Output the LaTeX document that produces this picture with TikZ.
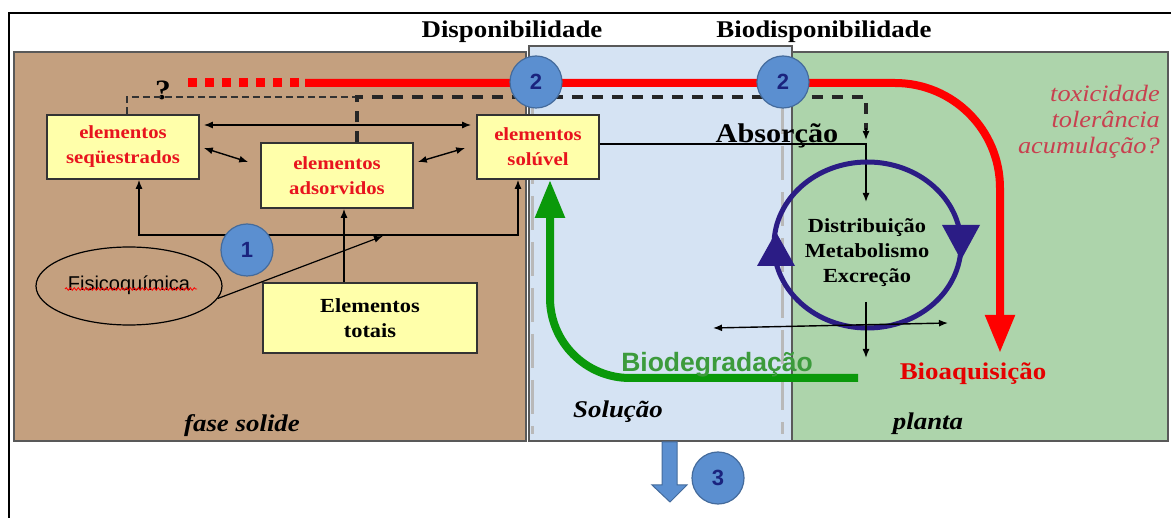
\documentclass[tikz,border=0pt]{standalone}
\usepackage{fontspec}
\setmainfont{Liberation Serif}[FakeStretch=1.12]
\setsansfont{Liberation Sans}
\usetikzlibrary{arrows.meta,positioning,shapes.geometric,calc,decorations.pathmorphing}
\definecolor{soilbrown}{HTML}{C4A07F}
\definecolor{solblue}{HTML}{D5E3F3}
\definecolor{plantgreen}{HTML}{ADD4AB}
\definecolor{boxyellow}{HTML}{FFFFAA}
\definecolor{elred}{HTML}{E8141E}
\definecolor{numblue}{HTML}{5B8FD0}
\definecolor{numnavy}{HTML}{1A237E}
\definecolor{cycpurple}{HTML}{2B1C85}
\definecolor{biogreen}{HTML}{0A990A}
\definecolor{biotext}{HTML}{3C9B3C}
\definecolor{toxred}{HTML}{C8404F}
\tikzset{
  panel/.style={draw=black!65, line width=2pt},
  limit/.style={draw=gray!55, line width=3pt, dash pattern=on 34pt off 12pt},
  elbox/.style={draw=black!80, line width=1.6pt, fill=boxyellow, align=center, inner sep=2pt},
  eltext/.style={elbox, text=elred, font=\bfseries\fontsize{18.5}{25}\selectfont},
  numc/.style={circle, draw=numblue!75!black, line width=1.2pt, fill=numblue, minimum size=52pt, inner sep=0pt, text=numnavy, font=\sffamily\bfseries\fontsize{22}{22}\selectfont},
  head/.style={font=\bfseries\fontsize{24}{24}\selectfont, anchor=base},
  zone/.style={font=\bfseries\itshape\fontsize{24}{24}\selectfont, anchor=base},
  arrow/.style={-{Latex[length=9pt,width=7pt]}, line width=1.4pt},
  darrow/.style={{Latex[length=9pt,width=7pt]}-{Latex[length=9pt,width=7pt]}, line width=1.4pt},
  bigtip/.style={-{Triangle[length=38pt,width=28pt]}}
}
\begin{document}
\begin{tikzpicture}[x=1pt,y=-1pt]
    \useasboundingbox (0,0) rectangle (1171,518);
    \draw[line width=2pt] (9,518) -- (9,13) -- (1171,13);

    % zones
    \draw[panel, fill=soilbrown] (14,52) rectangle (526,441);
    \draw[panel, fill=solblue] (529,46) rectangle (792,441);
    \draw[panel, fill=plantgreen] (792,52) rectangle (1168,441);
    \draw[limit] (532,58) -- (532,434);
    \draw[limit] (782,100) -- (782,434);

    \node[head] (dispo) at (512,38) {Disponibilidade};
    \node[head] (biodispo) at (824,38) {Biodisponibilidade};

    % solid phase
    \node[eltext, minimum width=152pt, minimum height=64pt] (seq) at (123,147) {elementos\\seqüestrados};
    \node[eltext, minimum width=152pt, minimum height=65pt] (ads) at (337,175.5) {elementos\\adsorvidos};
    \node[eltext, minimum width=122pt, minimum height=64pt] (sol) at (538,147) {elementos\\solúvel};
    \node[elbox, font=\bfseries\fontsize{20}{25}\selectfont, minimum width=214pt, minimum height=70pt] (tot) at (370,318) {Elementos\\totais};
    \node[draw, ellipse, line width=1.2pt, inner sep=0pt, minimum width=186pt, minimum height=78pt, font=\sffamily\fontsize{20}{20}\selectfont] (fisico) at (129,286) {\raisebox{5pt}{Fisicoquímica}};
    \draw[red, line width=0.8pt, decorate, decoration={snake, amplitude=1.3pt, segment length=4pt}] ($(fisico.center)+(-64,3)$) -- ($(fisico.center)+(68,3)$);
    \node[font=\bfseries\fontsize{28}{28}\selectfont, anchor=base] (qmark) at (163,100) {?};

    \draw[darrow] ($(seq.east)+(4,-22)$) -- ($(sol.west)+(-5,-22)$);
    \draw[darrow] ($(seq.east)+(4,1)$) -- ($(ads.west)+(-12,-13.5)$);
    \draw[darrow] ($(ads.east)+(4,-13.5)$) -- ($(sol.west)+(-11,1)$);
    \coordinate (bus) at (330,235);
    \draw[darrow] ([xshift=16pt]seq.south) |- (bus) -| ([xshift=-20pt]sol.south);
    \draw[arrow] ([xshift=-26pt]tot.north) -- ([xshift=-26pt]tot.north |- ads.south);
    \coordinate (fisitip) at (383,236);
    \draw[arrow, line width=1.2pt] (fisico.-8) -- (fisitip);

    % dashed links
    \coordinate (dashjoin) at (357,97);
    \coordinate (dashcorner) at (866,97);
    \coordinate (dashend) at (866,140);
    \draw[black!80, line width=1.5pt, dash pattern=on 7pt off 4pt] ($(seq.north)+(4,0)$) |- (dashjoin);
    \draw[black!85, line width=3.5pt, dash pattern=on 11pt off 9pt] ([xshift=20pt]ads.north) |- (dashcorner) -- ($(dashend)+(0,-10)$);
    \draw[arrow] ($(dashend)+(0,-12)$) -- (dashend);

    % absorption and cycle
    \node[font=\bfseries\fontsize{27}{27}\selectfont, anchor=base] (absorcao) at (777,143) {Absorção};
    \coordinate (abscorner) at (866,144);
    \coordinate (abstip) at (866,202);
    \draw[arrow] (sol.east |- abscorner) -- (abscorner) -- (abstip);

    \draw[cycpurple, line width=5pt] (867.5,245) ellipse [x radius=93.5pt, y radius=83pt];
    \fill[cycpurple] (757,266) -- (795,266) -- (776,232) -- cycle;
    \fill[cycpurple] (942,225) -- (980,225) -- (961,260) -- cycle;
    \node[font=\bfseries\fontsize{20}{25}\selectfont, align=center] (dme) at (867,253) {Distribuição\\Metabolismo\\Excreção};
    \coordinate (dmestart) at (866,302);
    \coordinate (dmetip) at (866,358);
    \draw[arrow] (dmestart) -- (dmetip);
    \coordinate (exl) at (713,328);
    \coordinate (exr) at (948,323);
    \draw[darrow] (exl) -- (exr);

    % biodegradation
    \coordinate (biostart) at (858,378);
    \coordinate (biocorner) at (550,378);
    \draw[biogreen, line width=8pt, rounded corners=80pt, bigtip] (biostart) -- (biocorner) -- (sol.south -| biocorner);
    \node[text=biotext, font=\sffamily\bfseries\fontsize{26.5}{26.5}\selectfont, anchor=base] (biodeg) at (717,372) {Biodegradação};

    % bioacquisition
    \coordinate (redstart) at (188,83);
    \coordinate (redsolid) at (305,83);
    \coordinate (redcorner) at (1000,83);
    \coordinate (redtip) at (1000,353);
    \draw[red, line width=9pt, dash pattern=on 9pt off 8pt] (redstart) -- (redsolid);
    \draw[red, line width=8pt, rounded corners=105pt, bigtip] (redsolid) -- (redcorner) -- (redtip);
    \node[text=red!90!black, font=\bfseries\fontsize{24}{24}\selectfont, anchor=base] (bioaq) at (973,380) {Bioaquisição};
    \node[text=toxred, font=\itshape\fontsize{23.5}{26}\selectfont, align=right, anchor=north east, inner sep=0pt] (tox) at (1160,85) {toxicidade\\tolerância\\acumulação?};

    \node[zone] (solide) at (242,432) {fase solide};
    \node[zone] (solucao) at (618,418) {Solução};
    \node[zone] (planta) at (928,430) {planta};

    % numbered steps
    \node[numc] (n2a) at (536,82) {2};
    \node[numc] (n2b) at (783,82) {2};
    \node[numc] (n1) at (247,250) {1};
    \fill[numblue, draw=numblue!75!black, line width=1pt] (662,442) -- (677,442) -- (677,485) -- (687,485) -- (670,502) -- (652,485) -- (662,485) -- cycle;
    \node[numc] (n3) at (718,478) {3};
\end{tikzpicture}
\end{document}
